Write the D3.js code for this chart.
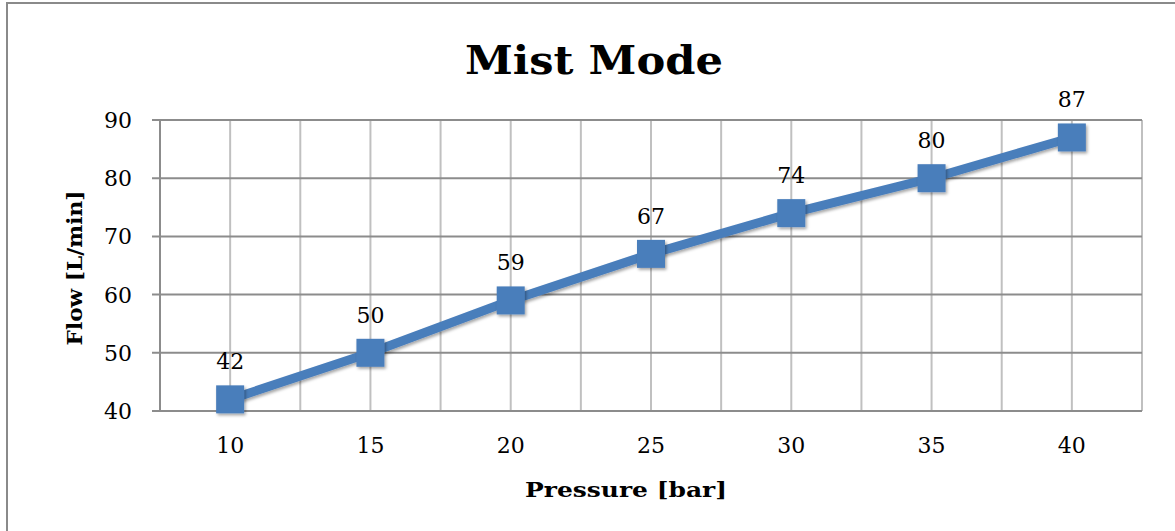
<!DOCTYPE html>
<html>
<head>
<meta charset="utf-8">
<script src="https://cdn.jsdelivr.net/npm/d3@7"></script>
<style>
  html, body { margin: 0; padding: 0; background: #fff; }
  svg { display: block; }
</style>
</head>
<body>
<svg id="chart" width="1175" height="531"></svg>
<script>
const categories = ["10", "15", "20", "25", "30", "35", "40"];
const flowValues = [42, 50, 59, 67, 74, 80, 87];
const yTicks = [40, 50, 60, 70, 80, 90];
const chartTitle = "Mist Mode";
const xTitle = "Pressure [bar]";
const yTitle = "Flow [L/min]";

const svg = d3.select("#chart");
const W = 1175, H = 531;
const plot = { left: 160, right: 1142, top: 120, bottom: 411 };
const serif = "'DejaVu Serif', serif";
const blue = "#4a7ebb";

svg.append("rect").attr("width", W).attr("height", H).attr("fill", "#fff");
// outer frame
svg.append("rect").attr("x", 7).attr("y", 3).attr("width", W + 20).attr("height", H + 20)
  .attr("fill", "none").attr("stroke", "#8a8a8a").attr("stroke-width", 2);

const defs = svg.append("defs");
const f = defs.append("filter").attr("id", "shadow").attr("x", "-30%").attr("y", "-30%").attr("width", "170%").attr("height", "170%");
f.append("feDropShadow").attr("dx", 1.5).attr("dy", 2).attr("stdDeviation", 1.5).attr("flood-color", "#000").attr("flood-opacity", 0.35);

const x = d3.scaleBand().domain(categories).range([plot.left, plot.right]).padding(0);
const y = d3.scaleLinear().domain([40, 90]).range([plot.bottom, plot.top]);
const cx = c => x(c) + x.bandwidth() / 2;

// vertical gridlines: band boundaries and centers
const vLines = [];
categories.forEach(c => { vLines.push(x(c)); vLines.push(cx(c)); });
vLines.push(plot.right);
svg.append("g").selectAll("line").data(vLines.slice(1)).join("line")
  .attr("x1", d => d).attr("x2", d => d).attr("y1", plot.top).attr("y2", plot.bottom)
  .attr("stroke", "#c0c0c0").attr("stroke-width", 2);

// horizontal gridlines with tick marks
svg.append("g").selectAll("line").data(yTicks).join("line")
  .attr("x1", plot.left - 8).attr("x2", plot.right).attr("y1", d => y(d)).attr("y2", d => y(d))
  .attr("stroke", "#8c8c8c").attr("stroke-width", 2);

// y axis line
svg.append("line").attr("x1", plot.left).attr("x2", plot.left).attr("y1", plot.top).attr("y2", plot.bottom)
  .attr("stroke", "#8c8c8c").attr("stroke-width", 2);

// y tick labels
svg.append("g").selectAll("text").data(yTicks).join("text")
  .attr("x", 132).attr("y", d => y(d) + 8).attr("text-anchor", "end")
  .attr("font-family", serif).attr("font-size", 22).attr("fill", "#000")
  .text(d => d);

// x tick labels
svg.append("g").selectAll("text").data(categories).join("text")
  .attr("x", d => cx(d)).attr("y", 453).attr("text-anchor", "middle")
  .attr("font-family", serif).attr("font-size", 22).attr("fill", "#000")
  .text(d => d);

// line
const pts = categories.map((c, i) => [cx(c), y(flowValues[i])]);
svg.append("path").attr("d", d3.line()(pts)).attr("fill", "none")
  .attr("stroke", blue).attr("stroke-width", 9).attr("stroke-linejoin", "round")
  .attr("filter", "url(#shadow)");

// markers
const ms = 28;
svg.append("g").selectAll("rect").data(pts).join("rect")
  .attr("x", d => d[0] - ms / 2).attr("y", d => d[1] - ms / 2)
  .attr("width", ms).attr("height", ms).attr("fill", blue)
  .attr("filter", "url(#shadow)");

// data labels
svg.append("g").selectAll("text").data(flowValues).join("text")
  .attr("x", (d, i) => cx(categories[i])).attr("y", d => y(d) - 30)
  .attr("text-anchor", "middle").attr("font-family", serif).attr("font-size", 22).attr("fill", "#000")
  .text(d => d);

// title
svg.append("text").attr("x", 594).attr("y", 74).attr("text-anchor", "middle")
  .attr("font-family", serif).attr("font-weight", "bold").attr("font-size", 40).attr("fill", "#000")
  .attr("textLength", 258).attr("lengthAdjust", "spacingAndGlyphs")
  .text(chartTitle);

// x title
svg.append("text").attr("x", 626).attr("y", 497).attr("text-anchor", "middle")
  .attr("font-family", serif).attr("font-weight", "bold").attr("font-size", 20).attr("fill", "#000")
  .attr("textLength", 202).attr("lengthAdjust", "spacingAndGlyphs")
  .text(xTitle);

// y title
svg.append("text").attr("transform", "translate(82,268) rotate(-90)").attr("text-anchor", "middle")
  .attr("font-family", serif).attr("font-weight", "bold").attr("font-size", 20).attr("fill", "#000")
  .attr("textLength", 155).attr("lengthAdjust", "spacingAndGlyphs")
  .text(yTitle);
</script>
</body>
</html>
